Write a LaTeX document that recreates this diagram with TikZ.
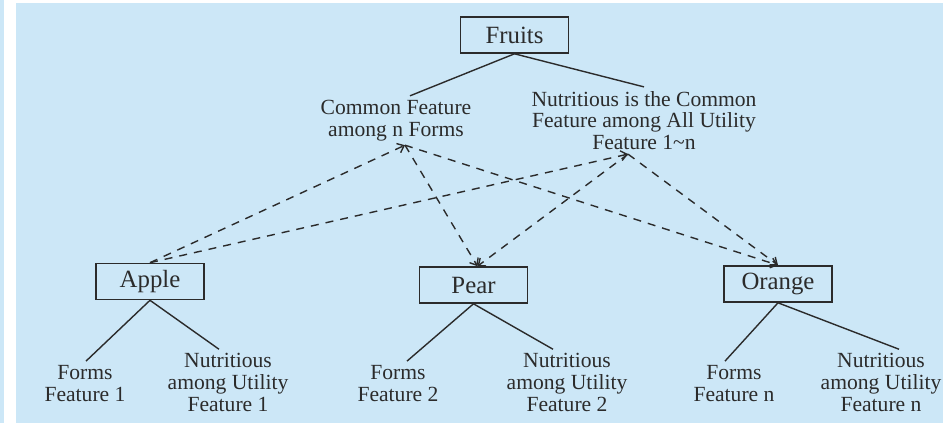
\documentclass[tikz,border=0pt]{standalone}
\usepackage{fontspec}
\setmainfont{Liberation Serif}
\usepackage{tikz}
\usetikzlibrary{arrows.meta}
\definecolor{panelblue}{HTML}{CCE7F7}
\definecolor{inkgray}{HTML}{2B2B2B}

\begin{document}
\begin{tikzpicture}[x=0.5pt, y=-0.5pt,
  font=\fontsize{10.8}{10.8}\selectfont, text=inkgray,
  fbox/.style={draw=inkgray, line width=0.8pt, minimum width=54pt, minimum height=18pt,
    inner sep=0pt, font=\fontsize{12.4}{12.4}\selectfont},
  ftxt/.style={align=center, inner sep=2pt},
  tie/.style={draw=inkgray, line width=0.7pt},
  link/.style={-{Straight Barb[length=3pt,width=5pt]}, draw=inkgray, line width=0.7pt,
    dash pattern=on 4pt off 3.5pt}]
\useasboundingbox (0,0) rectangle (943,423);
\fill[white] (0,0) rectangle (943,423);
\fill[panelblue] (0,0) rectangle (4,423);
\fill[panelblue] (16,3) rectangle (943,423);

% top level
\node[fbox] (fruits) at (514.5,35) {Fruits};
\node[ftxt] (common) at (396,120.5) {Common Feature\\among n Forms};
\node[ftxt] (nutr) at (644,120.5) {Nutritious is the Common\\Feature among All Utility\\Feature 1\textasciitilde n};

\draw[tie] (fruits.south)--([xshift=7pt]common.north);
\draw[tie] (fruits.south)--(nutr.north);

% the three fruits
\foreach \nm/\x/\y/\lbl in {apple/150/281.5/Apple, pear/473.5/285/Pear, orange/778/284/Orange}
 {
  \node[fbox] (\nm) at (\x,\y) {\lbl};
 }

\foreach \nm/\fx/\nx/\idx in {apple/85/228/1, pear/398/567/2, orange/734/881/n}
 {
  \node[ftxt] (\nm-f) at (\fx,383.5) {Forms\\Feature \idx};
  \node[ftxt] (\nm-n) at (\nx,382.5) {Nutritious\\among Utility\\Feature \idx};
 }

\draw[tie] (apple.south)--([xshift=0.5pt]apple-f.north);
\draw[tie] (apple.south)--([xshift=-4.5pt]apple-n.north);
\draw[tie] (pear.south)--([xshift=4.5pt]pear-f.north);
\draw[tie] (pear.south)--([xshift=-7pt]pear-n.north);
\draw[tie] (orange.south)--([xshift=-4.5pt]orange-f.north);
\draw[tie] (orange.south)--([xshift=9pt]orange-n.north);

% dashed links
\draw[link] (apple.north)--([xshift=4.5pt]common.south);
\draw[link] (apple.north)--([xshift=-8pt]nutr.south);
\draw[link] ([xshift=4.5pt]common.south)--([xshift=2pt]pear.north);
\draw[link] ([xshift=-8pt]nutr.south)--([xshift=2pt]pear.north);
\draw[link] ([xshift=4.5pt]common.south)--(orange.north);
\draw[link] ([xshift=-8pt]nutr.south)--(orange.north);
\end{tikzpicture}
\end{document}
